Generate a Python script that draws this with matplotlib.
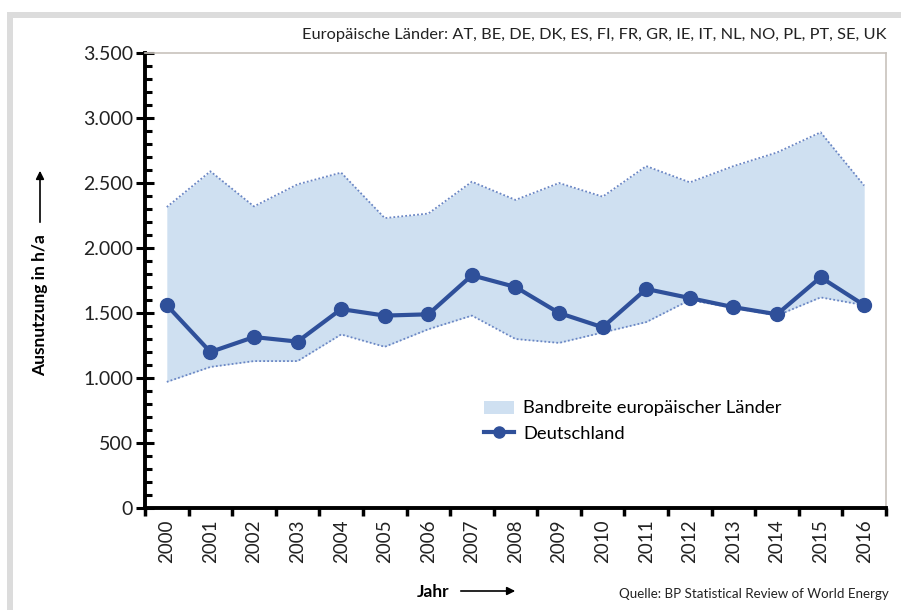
import matplotlib
matplotlib.use("Agg")
import matplotlib.pyplot as plt
import numpy as np
from matplotlib.patches import Rectangle, Patch
from matplotlib.lines import Line2D
from matplotlib.ticker import MultipleLocator, FixedLocator, NullFormatter

years = [str(y) for y in range(2000, 2017)]
deutschland = [1560, 1200, 1315, 1280, 1530, 1480, 1490, 1790, 1700, 1500,
               1390, 1685, 1615, 1545, 1490, 1775, 1560]
band_upper = [2315, 2590, 2320, 2490, 2580, 2230, 2265, 2510, 2370, 2500,
              2395, 2630, 2505, 2630, 2735, 2890, 2480]
band_lower = [970, 1085, 1130, 1130, 1335, 1240, 1375, 1480, 1300, 1270,
              1350, 1430, 1600, 1540, 1480, 1620, 1560]
y_ticks = [0, 500, 1000, 1500, 2000, 2500, 3000, 3500]
y_tick_labels = ["0", "500", "1.000", "1.500", "2.000", "2.500", "3.000", "3.500"]

plt.rcParams['font.family'] = ['Lato', 'DejaVu Sans']

fig = plt.figure(figsize=(9.01, 6.10), dpi=100)
# outer grey frame
fig.patches.append(Rectangle((7/901, 0), 6/901, 1 - 12/610, transform=fig.transFigure,
                             facecolor='#dcdcdc', edgecolor='none', zorder=0))
fig.patches.append(Rectangle((7/901, 1 - 18/610), 1, 6/610, transform=fig.transFigure,
                             facecolor='#dcdcdc', edgecolor='none', zorder=0))

ax = fig.add_axes([145/901, 1 - 508/610, (886 - 145)/901, (508 - 53)/610])
x = np.arange(len(years))
fill_c = '#cfe0f1'
edge_c = '#6a86c4'
line_c = '#2f509a'

ax.fill_between(x, band_lower, band_upper, color=fill_c, linewidth=0, zorder=1)
ax.plot(x, band_upper, color=edge_c, linestyle=(0, (1, 1.2)), linewidth=1.3, zorder=2)
ax.plot(x, band_lower, color=edge_c, linestyle=(0, (1, 1.2)), linewidth=1.3, zorder=2)
ax.plot(x, deutschland, color=line_c, linewidth=3, marker='o', markersize=10, zorder=3)

ax.set_xlim(-0.5, len(years) - 0.5)
ax.set_ylim(0, 3500)

# y axis
ax.yaxis.set_major_locator(FixedLocator(y_ticks))
ax.set_yticklabels(y_tick_labels, fontsize=14, color='#222222')
ax.yaxis.set_minor_locator(MultipleLocator(100))
ax.tick_params(axis='y', which='major', direction='inout', length=13, width=2.2, pad=2)
ax.tick_params(axis='y', which='minor', direction='in', length=5, width=2.2)

# x axis: labels at centers, ticks at boundaries
ax.set_xticks(x)
ax.set_xticklabels(years, rotation=90, fontsize=13.5, color='#222222')
ax.tick_params(axis='x', which='major', length=0, pad=8)
ax.set_xticks(np.arange(len(years) + 1) - 0.5, minor=True)
ax.xaxis.set_minor_formatter(NullFormatter())
ax.tick_params(axis='x', which='minor', direction='out', length=6, width=2.5)

for s in ['left', 'bottom']:
    ax.spines[s].set_linewidth(2.8)
    ax.spines[s].set_color('black')
for s in ['top', 'right']:
    ax.spines[s].set_linewidth(1.2)
    ax.spines[s].set_color('#c8c2bc')

# axis labels with arrows
fig.text(40/901, 1 - 305/610, "Ausnutzung in h/a", rotation=90, fontsize=12.5,
         fontweight='bold', ha='center', va='center')
fig.add_artist(matplotlib.patches.FancyArrowPatch((40/901, 1 - 225/610), (40/901, 1 - 168/610),
               transform=fig.transFigure, arrowstyle='-|>', mutation_scale=12,
               color='black', linewidth=1.2))
fig.text(433/901, 1 - 592/610, "Jahr", fontsize=12.5, fontweight='bold', ha='center', va='center')
fig.add_artist(matplotlib.patches.FancyArrowPatch((458/901, 1 - 591/610), (518/901, 1 - 591/610),
               transform=fig.transFigure, arrowstyle='-|>', mutation_scale=12,
               color='black', linewidth=1.2))

fig.text(886/901, 1 - 35/610,
         "Europäische Länder: AT, BE, DE, DK, ES, FI, FR, GR, IE, IT, NL, NO, PL, PT, SE, UK",
         fontsize=11.8, ha='right', va='center', color='#222222')
fig.text(889/901, 1 - 594/610, "Quelle: BP Statistical Review of World Energy",
         fontsize=9.6, ha='right', va='center', color='#222222')

handles = [Patch(facecolor=fill_c, edgecolor='none'),
           Line2D([0], [0], color=line_c, linewidth=3, marker='o', markersize=8)]
leg = ax.legend(handles, ["Bandbreite europäischer Länder", "Deutschland"],
                loc='upper left', bbox_to_anchor=((468 - 145)/741, (508 - 384)/455),
                frameon=False, fontsize=13.2, handlelength=1.6, handletextpad=0.5,
                labelspacing=0.5)

fig.savefig("out.png", dpi=100)
